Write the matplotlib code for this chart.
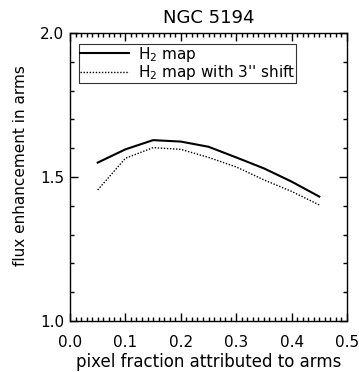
import matplotlib
matplotlib.use("Agg")
import matplotlib.pyplot as plt
from matplotlib.ticker import MultipleLocator, FormatStrFormatter

fraction = [0.05, 0.10, 0.15, 0.20, 0.25, 0.30, 0.35, 0.40, 0.45]
h2_map = [1.550, 1.596, 1.628, 1.623, 1.605, 1.568, 1.530, 1.484, 1.432]
h2_shift = [1.455, 1.565, 1.602, 1.596, 1.568, 1.535, 1.490, 1.450, 1.403]

plt.rcParams['font.family'] = ['DejaVu Sans']
fig = plt.figure(figsize=(3.59, 3.72), dpi=100)
ax = fig.add_axes([70/359, 1-321/372, 277/359, 288/372])

ax.plot(fraction, h2_map, color='black', lw=1.5, label='H$_2$ map')
ax.plot(fraction, h2_shift, color='black', lw=1.0, ls=(0, (1, 1.2)), label="H$_2$ map with 3'' shift")

ax.set_xlim(0, 0.5)
ax.set_ylim(1.0, 2.0)
ax.xaxis.set_major_locator(MultipleLocator(0.1))
ax.xaxis.set_minor_locator(MultipleLocator(0.01))
ax.yaxis.set_major_locator(MultipleLocator(0.5))
ax.yaxis.set_minor_locator(MultipleLocator(0.1))
ax.tick_params(which='both', direction='in', top=True, right=True, labelsize=11, width=1.0)
ax.tick_params(which='major', length=6)
ax.tick_params(axis='x', which='major', pad=10)
ax.tick_params(axis='y', which='major', pad=4)
ax.tick_params(which='minor', length=3)
ax.xaxis.set_major_formatter(FormatStrFormatter('%.1f'))
ax.yaxis.set_major_formatter(FormatStrFormatter('%.1f'))
for s in ax.spines.values():
    s.set_linewidth(1.0)

ax.set_title('NGC 5194', fontsize=13, pad=7)
ax.set_xlabel('pixel fraction attributed to arms', fontsize=12, labelpad=2)
ax.set_ylabel('flux enhancement in arms', fontsize=11)
ax.yaxis.set_label_coords(-0.15, 0.54)

leg = ax.legend(loc='upper left', bbox_to_anchor=(0.032, 0.962), frameon=True, fontsize=11,
                handlelength=3.2, borderpad=0.05, labelspacing=-0.05, handletextpad=0.6,
                borderaxespad=0, fancybox=False)
leg.get_frame().set_edgecolor('black')
leg.get_frame().set_linewidth(0.8)

fig.savefig('out.png', dpi=100)
